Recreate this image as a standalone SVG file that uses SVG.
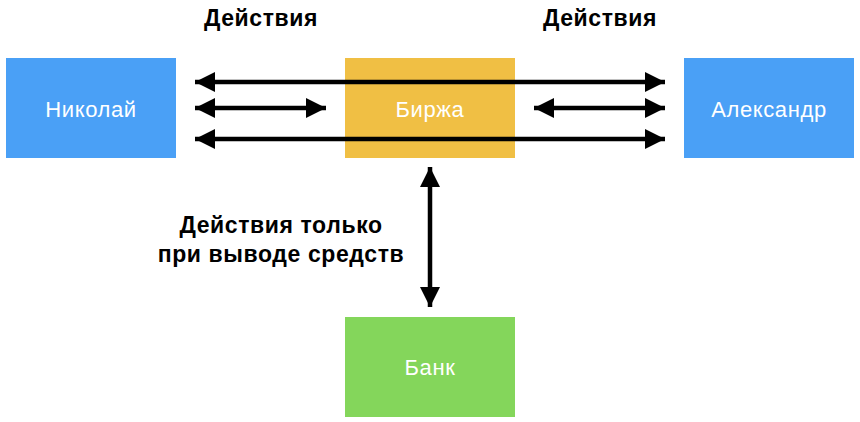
<svg xmlns="http://www.w3.org/2000/svg" width="860" height="422" viewBox="0 0 860 422">
<style>
.lbl{font-family:"Liberation Sans",Arial,sans-serif;font-size:22px;letter-spacing:0.6px;fill:#fff;text-anchor:middle}
.t{font-family:"Liberation Sans",Arial,sans-serif;font-size:23px;letter-spacing:0.6px;font-weight:bold;fill:#000;text-anchor:middle}
.c{stroke:#000;stroke-width:4.5;fill:none;marker-start:url(#ah);marker-end:url(#ah)}
</style>
<defs>
<marker id="ah" viewBox="0 0 20 20" refX="20" refY="10" markerWidth="20" markerHeight="20" markerUnits="userSpaceOnUse" orient="auto-start-reverse">
<path d="M0,0 L20,10 L0,20 Z" fill="#000"/>
</marker>
</defs>
<rect width="860" height="422" fill="#fff"/>
<g id="nikolay"><rect x="6" y="58" width="170" height="100" fill="#4AA0F6"/><text class="lbl" x="91" y="117">Николай</text></g>
<g id="birzha"><rect x="345" y="58" width="170" height="100" fill="#F0BF44"/><text class="lbl" x="430" y="117">Биржа</text></g>
<g id="aleksandr"><rect x="684" y="58" width="170" height="100" fill="#4AA0F6"/><text class="lbl" x="769" y="117">Александр</text></g>
<g id="bank"><rect x="345" y="317" width="170" height="100" fill="#84D65B"/><text class="lbl" x="430" y="375">Банк</text></g>
<g id="connectors">
<line class="c" x1="195" y1="82" x2="665" y2="82"/>
<line class="c" x1="195" y1="108" x2="326" y2="108"/>
<line class="c" x1="534" y1="108" x2="665" y2="108"/>
<line class="c" x1="195" y1="139" x2="665" y2="139"/>
<line class="c" x1="430" y1="167" x2="430" y2="307"/>
</g>
<g id="labels">
<text class="t" x="261" y="26">Действия</text>
<text class="t" x="600" y="26">Действия</text>
<text class="t" x="281" y="233">Действия только</text>
<text class="t" x="281" y="262">при выводе средств</text>
</g>
</svg>
